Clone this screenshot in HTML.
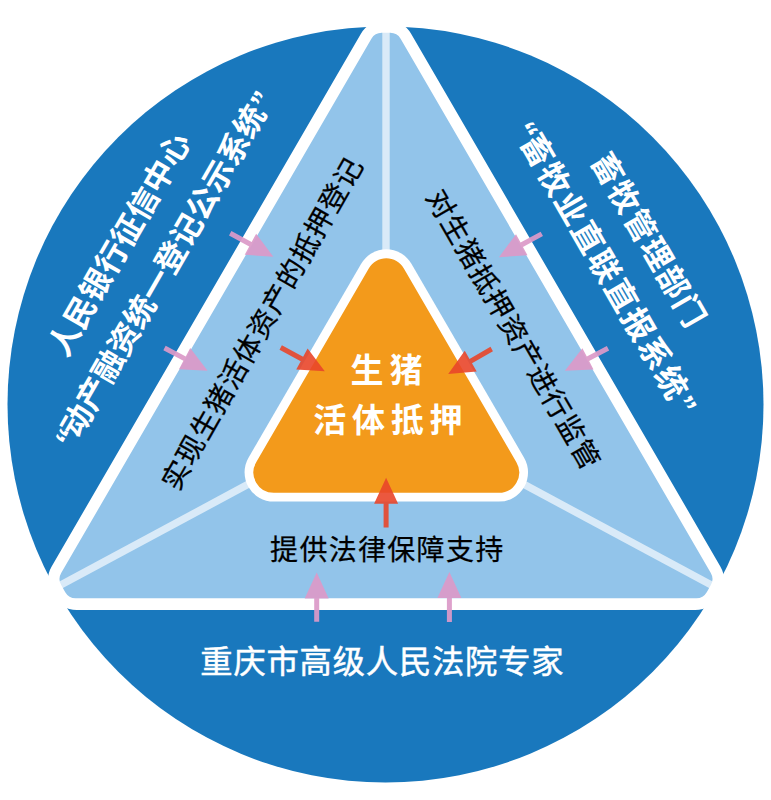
<!DOCTYPE html>
<html lang="zh"><head><meta charset="utf-8"><title>diagram</title>
<style>html,body{margin:0;padding:0;background:#fff;font-family:"Liberation Sans",sans-serif;}svg{display:block}</style></head>
<body>
<svg width="771" height="800" viewBox="0 0 771 800">
<rect width="771" height="800" fill="#fff"/>
<circle cx="385.5" cy="404.5" r="378" fill="#1978bd"/>
<path d="M360.92 33.70 A29.00 29.00 0 0 1 411.08 33.70 L720.34 566.44 A29.00 29.00 0 0 1 695.26 610.00 L76.74 610.00 A29.00 29.00 0 0 1 51.66 566.44 Z" fill="#ffffff"/>
<path d="M371.39 38.68 A12.00 12.00 0 0 1 381.76 32.70 L390.24 32.70 A12.00 12.00 0 0 1 400.61 38.68 L710.82 573.04 A12.00 12.00 0 0 1 710.84 585.05 L706.74 592.19 A12.00 12.00 0 0 1 696.34 598.20 L75.66 598.20 A12.00 12.00 0 0 1 65.26 592.19 L61.16 585.05 A12.00 12.00 0 0 1 61.18 573.04 Z" fill="#92c4ea"/>
<line x1="386" y1="14" x2="386" y2="300" stroke="#ffffff" stroke-width="7.4" stroke-opacity="0.65"/>
<line x1="45.8" y1="593.1" x2="300" y2="456.4" stroke="#ffffff" stroke-width="7.4" stroke-opacity="0.65"/>
<line x1="726.2" y1="593.1" x2="472" y2="456.4" stroke="#ffffff" stroke-width="7.4" stroke-opacity="0.65"/>
<path d="M361.05 263.90 A29.20 29.20 0 0 1 411.55 263.90 L524.08 457.74 A29.20 29.20 0 0 1 498.83 501.60 L273.77 501.60 A29.20 29.20 0 0 1 248.52 457.74 Z" fill="#ffffff"/>
<path d="M368.74 268.44 A20.30 20.30 0 0 1 403.86 268.44 L516.40 462.31 A20.30 20.30 0 0 1 498.84 492.80 L273.76 492.80 A20.30 20.30 0 0 1 256.20 462.31 Z" fill="#f39a1b"/>
<path transform="translate(230.20 233.30) rotate(28.50)" d="M0 -2.50 L23.04 -2.50 L23.04 -12.00 L49.04 0 L23.04 12.00 L23.04 2.50 L0 2.50 Z" fill="#db9ac8" fill-opacity="0.93"/>
<path transform="translate(164.50 348.00) rotate(27.88)" d="M0 -2.50 L22.76 -2.50 L22.76 -12.00 L48.76 0 L22.76 12.00 L22.76 2.50 L0 2.50 Z" fill="#db9ac8" fill-opacity="0.93"/>
<path transform="translate(541.80 233.90) rotate(151.49)" d="M0 -2.50 L22.82 -2.50 L22.82 -12.00 L48.82 0 L22.82 12.00 L22.82 2.50 L0 2.50 Z" fill="#db9ac8" fill-opacity="0.93"/>
<path transform="translate(608.00 348.30) rotate(152.43)" d="M0 -2.50 L22.62 -2.50 L22.62 -12.00 L48.62 0 L22.62 12.00 L22.62 2.50 L0 2.50 Z" fill="#db9ac8" fill-opacity="0.93"/>
<path transform="translate(316.70 621.80) rotate(-90.00)" d="M0 -2.50 L23.40 -2.50 L23.40 -12.00 L49.40 0 L23.40 12.00 L23.40 2.50 L0 2.50 Z" fill="#db9ac8" fill-opacity="0.93"/>
<path transform="translate(449.40 622.00) rotate(-90.00)" d="M0 -2.50 L24.00 -2.50 L24.00 -12.00 L50.00 0 L24.00 12.00 L24.00 2.50 L0 2.50 Z" fill="#db9ac8" fill-opacity="0.93"/>
<path transform="translate(280.70 347.50) rotate(28.35)" d="M0 -2.50 L24.11 -2.50 L24.11 -12.00 L50.11 0 L24.11 12.00 L24.11 2.50 L0 2.50 Z" fill="#e9462a" fill-opacity="0.9"/>
<path transform="translate(491.70 349.00) rotate(150.11)" d="M0 -2.50 L24.17 -2.50 L24.17 -12.00 L50.17 0 L24.17 12.00 L24.17 2.50 L0 2.50 Z" fill="#e9462a" fill-opacity="0.9"/>
<path transform="translate(386.10 527.60) rotate(-90.00)" d="M0 -2.50 L23.80 -2.50 L23.80 -12.00 L49.80 0 L23.80 12.00 L23.80 2.50 L0 2.50 Z" fill="#e9462a" fill-opacity="0.9"/>
<g transform="translate(382.30 660.30) rotate(0.00) translate(-182.37 12.34)" fill="#fff"><text x="0.4" y="0" font-family="&quot;Liberation Sans&quot;, &quot;Noto Sans CJK SC&quot;, sans-serif" font-size="32.3" letter-spacing="0.8" fill="#fff" stroke="#fff" stroke-width="0.5">重庆市高级人民法院专家</text></g>
<g transform="translate(386.50 549.30) rotate(0.00) translate(-117.05 10.70)" fill="#000"><text x="0.65" y="0" font-family="&quot;Liberation Sans&quot;, &quot;Noto Sans CJK SC&quot;, sans-serif" font-size="28.0" letter-spacing="1.3" fill="#000" stroke="#000" stroke-width="0.25">提供法律保障支持</text></g>
<g transform="translate(386.40 369.50) rotate(0.00) translate(-38.90 12.56)" fill="#fff"><text x="3" y="0" font-family="&quot;Liberation Sans&quot;, &quot;Noto Sans CJK SC&quot;, sans-serif" font-size="33.0" font-weight="bold" letter-spacing="6" fill="#fff">生猪</text></g>
<g transform="translate(387.50 419.00) rotate(0.00) translate(-76.97 12.52)" fill="#fff"><text x="2.85" y="0" font-family="&quot;Liberation Sans&quot;, &quot;Noto Sans CJK SC&quot;, sans-serif" font-size="33.0" font-weight="bold" letter-spacing="5.7" fill="#fff">活体抵押</text></g>
<g transform="translate(119.00 243.80) rotate(-60.00) translate(-125.71 11.88)" fill="#fff"><text x="0" y="0" font-family="&quot;Liberation Sans&quot;, &quot;Noto Sans CJK SC&quot;, sans-serif" font-size="31.4" font-weight="bold" fill="#fff">人民银行征信中心</text></g>
<g transform="translate(162.80 270.60) rotate(-60.00) translate(-219.80 11.90)" fill="#fff"><text x="19 31.4 62.8 94.2 125.6 157 188.4 219.8 251.2 282.6 314 345.4 376.8 409" y="0" font-family="&quot;Liberation Sans&quot;, &quot;Noto Sans CJK SC&quot;, sans-serif" font-size="31.4" font-weight="bold" fill="#fff">“动产融资统一登记公示系统”</text></g>
<g transform="translate(649.00 239.05) rotate(60.00) translate(-97.68 11.99)" fill="#fff"><text x="0.7" y="0" font-family="&quot;Liberation Sans&quot;, &quot;Noto Sans CJK SC&quot;, sans-serif" font-size="31.3" font-weight="bold" letter-spacing="1.4" fill="#fff">畜牧管理部门</text></g>
<g transform="translate(604.90 266.10) rotate(60.00) translate(-184.25 12.14)" fill="#fff"><text x="20 34.25 67.75 101.25 134.75 168.25 201.75 235.25 268.75 302.25 336.75" y="0" font-family="&quot;Liberation Sans&quot;, &quot;Noto Sans CJK SC&quot;, sans-serif" font-size="32.0" font-weight="bold" fill="#fff">“畜牧业直联直报系统”</text></g>
<g transform="translate(261.85 323.10) rotate(-60.40) translate(-188.96 10.64)" fill="#000"><text x="0.5" y="0" font-family="&quot;Liberation Sans&quot;, &quot;Noto Sans CJK SC&quot;, sans-serif" font-size="28.0" letter-spacing="1" fill="#000" stroke="#000" stroke-width="0.25">实现生猪活体资产的抵押登记</text></g>
<g transform="translate(513.60 328.80) rotate(60.00) translate(-158.74 10.60)" fill="#000"><text x="0.45" y="0" font-family="&quot;Liberation Sans&quot;, &quot;Noto Sans CJK SC&quot;, sans-serif" font-size="28.0" letter-spacing="0.9" fill="#000" stroke="#000" stroke-width="0.25">对生猪抵押资产进行监管</text></g>
</svg>
</body></html>
